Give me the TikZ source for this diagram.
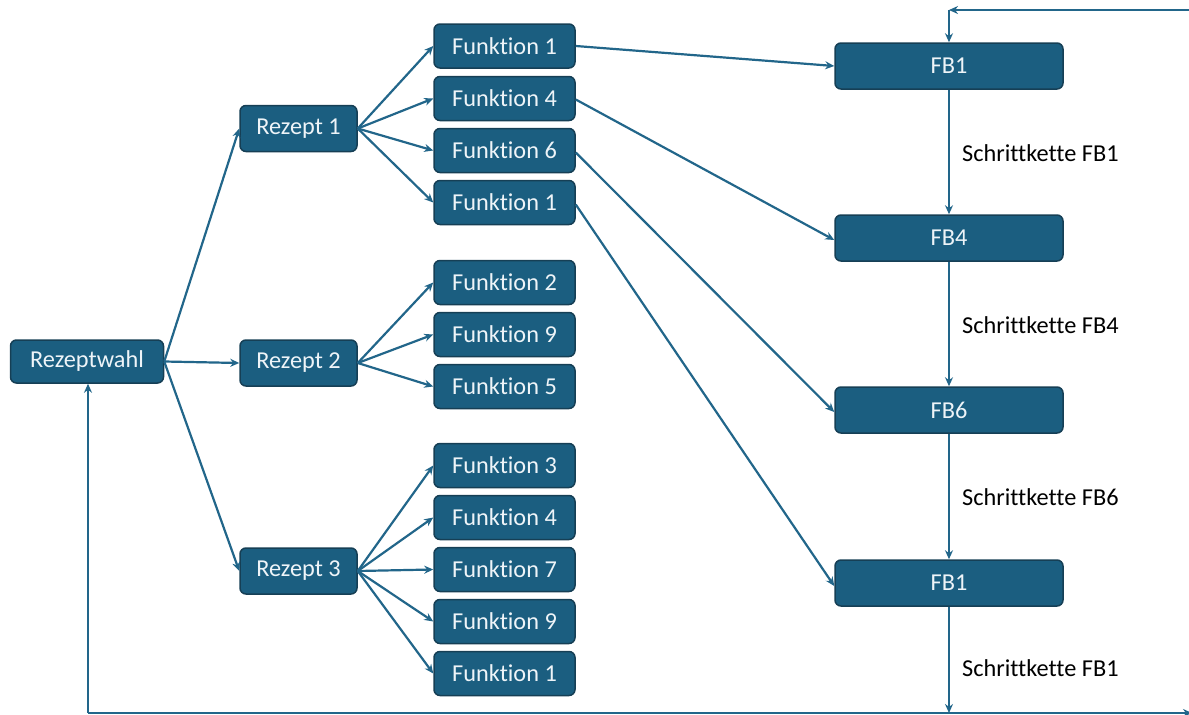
\documentclass[tikz,border=0pt]{standalone}
\usepackage{fontspec}
\setmainfont{Carlito}[Ligatures={NoCommon}]
\usetikzlibrary{arrows.meta}
\definecolor{boxfill}{HTML}{1B5E80}
\definecolor{boxline}{HTML}{163F55}
\definecolor{linec}{HTML}{22668A}
\definecolor{boxtext}{HTML}{EEF4F8}
\tikzset{
  box/.style={draw=boxline, line width=1.5pt, fill=boxfill, rounded corners=6pt,
    text=boxtext, font=\fontsize{24.3}{28}\selectfont, inner sep=0pt, align=center},
  rbox/.style={box, minimum width=117pt, minimum height=46pt},
  fbox/.style={box, minimum width=141pt, minimum height=44pt},
  fbbox/.style={box, minimum width=228pt, minimum height=46pt},
  arr/.style={draw=linec, line width=2.2pt, -{Stealth[length=9pt,width=8pt]}},
  lab/.style={font=\fontsize{24.3}{28}\selectfont, anchor=west, inner sep=0pt}
}
\begin{document}
\begin{tikzpicture}[x=1pt,y=-1pt]
\useasboundingbox (0,0) rectangle (1189,715);
% left column
\node[box, minimum width=153pt, minimum height=43pt] (rw) at (87,361.5) {Rezeptwahl};
\node[rbox] (r1) at (298.5,128.5) {Rezept 1};
\node[rbox] (r2) at (298.5,363) {Rezept 2};
\node[rbox] (r3) at (298.5,571) {Rezept 3};
% functions
\node[fbox] (f11) at (504.5,46) {Funktion 1};
\node[fbox] (f14) at (504.5,98.5) {Funktion 4};
\node[fbox] (f16) at (504.5,150.5) {Funktion 6};
\node[fbox] (f1b) at (504.5,202.5) {Funktion 1};
\node[fbox] (f22) at (504.5,282.5) {Funktion 2};
\node[fbox] (f29) at (504.5,334.5) {Funktion 9};
\node[fbox] (f25) at (504.5,386.5) {Funktion 5};
\node[fbox] (f33) at (504.5,465.5) {Funktion 3};
\node[fbox] (f34) at (504.5,517.5) {Funktion 4};
\node[fbox] (f37) at (504.5,569.5) {Funktion 7};
\node[fbox] (f39) at (504.5,621.5) {Funktion 9};
\node[fbox] (f31) at (504.5,673.5) {Funktion 1};
% FB column
\node[fbbox] (fb1) at (949,66) {FB1};
\node[fbbox] (fb4) at (949,238) {FB4};
\node[fbbox] (fb6) at (949,410) {FB6};
\node[fbbox] (fb1b) at (949,583) {FB1};
% labels
\node[lab] (l1) at (962,153) {Schrittkette FB1};
\node[lab] (l2) at (962,325) {Schrittkette FB4};
\node[lab] (l3) at (962,497) {Schrittkette FB6};
\node[lab] (l4) at (962,668) {Schrittkette FB1};
% loop coordinates
\coordinate (tr) at (1192,10);
\coordinate (tc) at (949,10);
\coordinate (bc) at (949,713);
\coordinate (bl) at (88,713);
\coordinate (br) at (1192,713);
% Rezeptwahl to Rezepte
\foreach \r in {r1,r2,r3} \draw[arr] (rw.east) -- (\r.west);
% Rezepte to functions
\foreach \f in {f11,f14,f16,f1b} \draw[arr] (r1.east) -- (\f.west);
\foreach \f in {f22,f29,f25} \draw[arr] (r2.east) -- (\f.west);
\foreach \f in {f33,f34,f37,f39,f31} \draw[arr] (r3.east) -- (\f.west);
% functions to FB
\draw[arr] (f11.east) -- (fb1.west);
\draw[arr] ([yshift=-1pt]f14.east) -- ([yshift=-2pt]fb4.west);
\draw[arr] ([yshift=-2pt]f16.east) -- ([yshift=-2pt]fb6.west);
\draw[arr] ([yshift=-2pt]f1b.east) -- ([yshift=-3pt]fb1b.west);
% chain
\draw[arr] (fb1.south) -- (fb4.north);
\draw[arr] (fb4.south) -- (fb6.north);
\draw[arr] (fb6.south) -- (fb1b.north);
\draw[arr] (fb1b.south) -- (bc);
% loop back
\draw[arr] (tr) -- (tc);
\draw[arr] (tc) -- (fb1.north);
\draw[arr] (bl) -- (br);
\draw[arr] (bl) -- (rw.south -| bl);
\end{tikzpicture}
\end{document}
